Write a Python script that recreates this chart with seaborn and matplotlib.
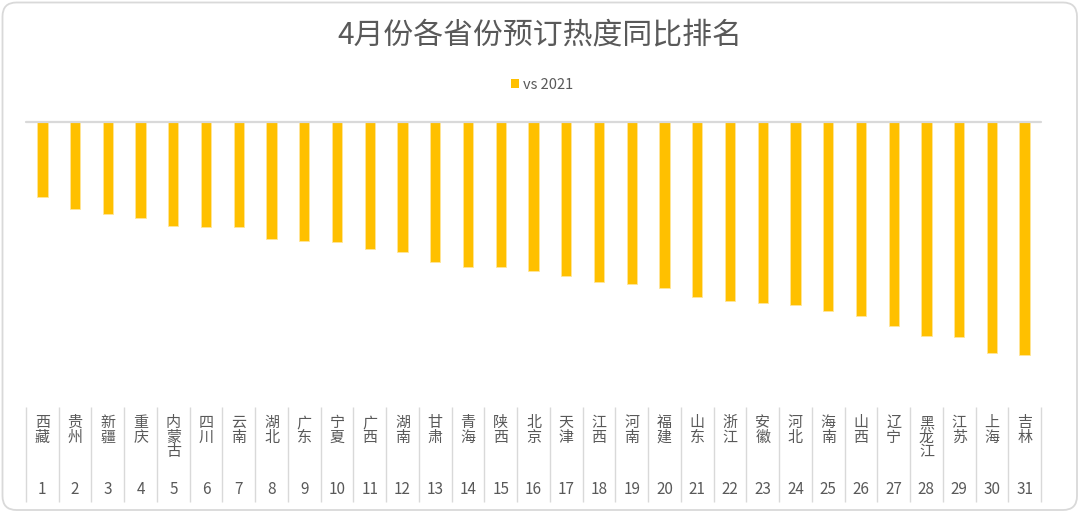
import matplotlib
matplotlib.use('Agg')
import matplotlib.pyplot as plt
import matplotlib.transforms as mtransforms
from matplotlib.patches import FancyBboxPatch, Patch
import seaborn as sns
import pandas as pd

# ---- data ----
provinces = ['西藏', '贵州', '新疆', '重庆', '内蒙古', '四川', '云南', '湖北', '广东', '宁夏',
             '广西', '湖南', '甘肃', '青海', '陕西', '北京', '天津', '江西', '河南', '福建',
             '山东', '浙江', '安徽', '河北', '海南', '山西', '辽宁', '黑龙江', '江苏', '上海', '吉林']
ranks = ['1', '2', '3', '4', '5', '6', '7', '8', '9', '10', '11', '12', '13', '14', '15', '16',
         '17', '18', '19', '20', '21', '22', '23', '24', '25', '26', '27', '28', '29', '30', '31']
yoy_vs_2021 = [-75.3, -87.0, -92.3, -95.7, -104.3, -104.7, -105.0, -117.0, -119.0, -119.7,
               -126.7, -130.0, -140.0, -145.0, -145.0, -149.3, -154.3, -160.0, -162.3, -165.7,
               -174.7, -178.7, -181.0, -183.3, -188.7, -194.0, -204.0, -213.7, -215.3, -230.7,
               -232.7]
series_name = 'vs 2021'
title = '4月份各省份预订热度同比排名'

df = pd.DataFrame({'province': provinces, 'rank': ranks, 'value': yoy_vs_2021})

# ---- style ----
sns.set_style('white')
plt.rcParams['font.family'] = ['Noto Sans CJK SC', 'DejaVu Sans']

BAR = '#FFC000'
TXT = '#595959'
GRID = '#D9D9D9'

W, H = 1080, 514
fig = plt.figure(figsize=(W / 100, H / 100), dpi=100)
fig.patch.set_facecolor('white')

# axes: x from 26px to 1041px, y from 122px (baseline) to 400px
ax = fig.add_axes([26 / W, 1 - 400 / H, (1041 - 26) / W, 278 / H])
sns.barplot(data=df, x='province', y='value', order=provinces, color=BAR,
            width=0.315, edgecolor='#FFE699', linewidth=0.6, label=series_name,
            ax=ax, saturation=1)
ax.set_xlim(-0.5, len(provinces) - 0.5)
ax.set_ylim(-278, 0)
for s in ax.spines.values():
    s.set_visible(False)
ax.set_xticks([])
ax.set_yticks([])
ax.set_xlabel('')
ax.set_ylabel('')
if ax.get_legend() is not None:
    ax.get_legend().remove()

# baseline
ax.axhline(0, color=GRID, lw=1.6, zorder=5, clip_on=False)

# category table
trans = mtransforms.blended_transform_factory(ax.transData, fig.transFigure)
edges = [i - 0.5 for i in range(len(provinces) + 1)]
ax.vlines(edges, 1 - 502 / H, 1 - 407 / H, colors=GRID, lw=1.0,
          transform=trans, clip_on=False)
for i, (p, r) in enumerate(zip(provinces, ranks)):
    ax.text(i, 1 - 416 / H, '\n'.join(p), transform=trans, ha='center', va='top',
            fontsize=10.8, color=TXT, linespacing=1.06, clip_on=False)
    ax.text(i, 1 - 490 / H, r, transform=trans, ha='center', va='center',
            fontsize=11, color=TXT, clip_on=False)

# title
fig.text(0.5, 1 - 36 / H, title, ha='center', va='center', fontsize=21.5, color=TXT)

# legend
handles = [Patch(facecolor=BAR, edgecolor='none')]
leg = fig.legend(handles, [series_name], loc='center', bbox_to_anchor=(542 / W, 1 - 85 / H),
                 frameon=False, fontsize=10.5, handlelength=0.55, handleheight=0.55,
                 handletextpad=0.3, borderpad=0)
for t in leg.get_texts():
    t.set_color(TXT)

# rounded card border
card = FancyBboxPatch((2.5, 4), W - 5.5, H - 6.5, boxstyle='round,pad=0,rounding_size=14',
                      transform=mtransforms.IdentityTransform(), facecolor='none',
                      edgecolor=GRID, lw=1.3)
fig.add_artist(card)

fig.savefig('out.png', dpi=100)
